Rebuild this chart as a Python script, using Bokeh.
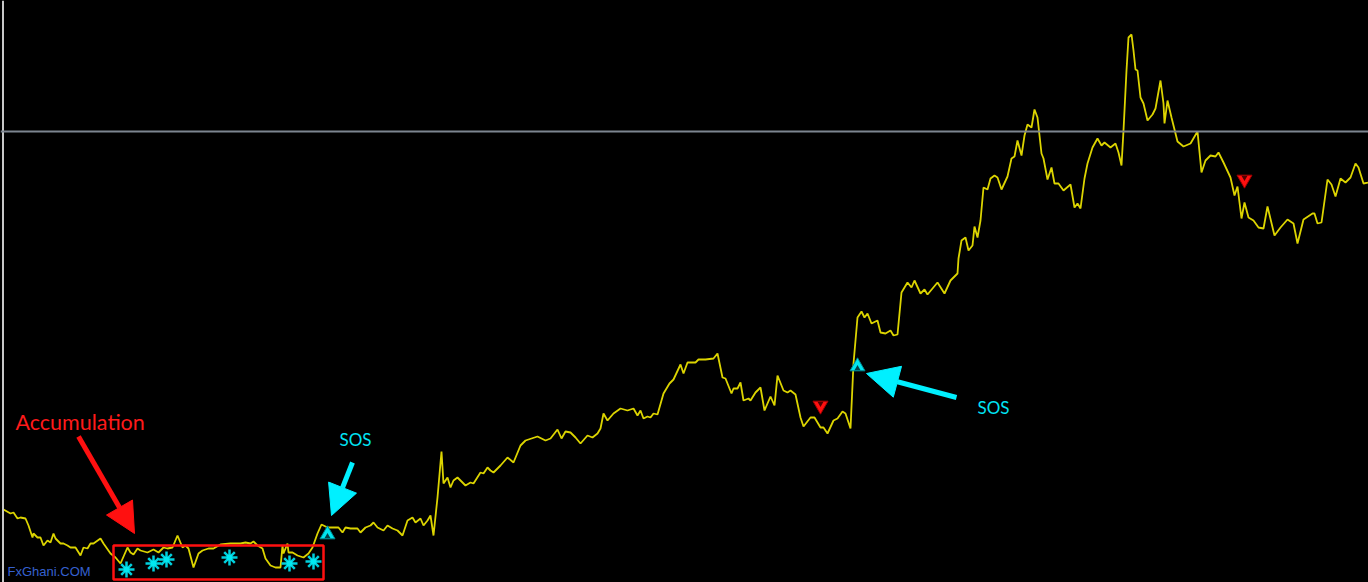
import numpy as np
from bokeh.plotting import figure
from bokeh.models import Range1d, Span, Label, Arrow, NormalHead, ColumnDataSource
from bokeh.embed import file_html
from bokeh.resources import INLINE

# ---- price series (time position, price level; price axis is inverted screen-like scale) ----
bar_time = [3, 10, 13, 17, 20, 25, 28, 32, 33, 37, 40, 43, 47, 50, 53, 55, 60, 63, 67, 70, 75, 80, 83, 87, 90, 93,
            100, 103, 110, 115, 120, 127, 130, 133, 137, 140, 147, 153, 158, 163, 167, 172, 177, 182, 185, 188, 193,
            198, 202, 208, 213,
            220, 230, 235, 240, 245, 250, 253, 257, 262, 265, 270, 275, 280, 282, 283, 287, 288, 292, 297, 303, 308,
            312, 317, 321, 327, 333, 338, 342, 345, 350, 357, 360, 365, 370, 373, 377, 383, 387, 392, 397, 402, 407,
            412, 415, 420, 423, 427, 430, 433,
            437, 441, 443, 447, 450, 453, 457, 465, 470, 473, 480, 483, 487, 490, 493, 500, 507, 513, 520, 525, 537,
            545, 550, 557, 561, 565, 570, 575, 580, 587, 592, 597, 600, 603, 607, 613, 620, 627, 630, 633, 637, 640,
            643, 647, 650, 653, 657, 663, 669, 673, 680, 683, 687, 695, 698, 705, 713, 717, 722, 725, 731, 733, 737,
            740, 743, 748, 750, 755, 760, 764, 770, 774, 777, 783, 787, 790, 795, 800, 803, 810, 814, 820, 823, 827,
            833, 837, 842, 845, 850, 853,
            855, 857, 861, 864, 867, 871, 877, 880, 885, 890, 893, 897, 901, 907, 911, 914, 920, 924, 927, 937, 944,
            950, 957, 958, 961, 965, 968, 972, 974, 977, 980, 983, 987, 990, 994, 997, 1001,
            1007, 1011, 1014, 1017, 1021, 1024, 1027, 1031, 1034, 1037, 1041, 1043, 1047, 1051, 1054, 1058, 1063,
            1070, 1074, 1077, 1080, 1084, 1087, 1092, 1097, 1101, 1104, 1110, 1115, 1118, 1121, 1123, 1126, 1128,
            1131, 1133, 1135, 1137, 1140, 1143, 1147, 1152, 1155, 1160, 1163, 1164, 1167, 1171, 1177, 1183, 1190, 1197,
            1201, 1205, 1210, 1215, 1218, 1223, 1230, 1234, 1237, 1241, 1244, 1248, 1253, 1258, 1263, 1267, 1274,
            1280, 1287, 1293, 1297, 1303, 1312, 1314, 1317, 1321, 1327, 1331, 1335, 1340, 1345, 1350, 1355, 1358,
            1363, 1368]
price = [509, 513, 512, 518, 517, 518, 525, 537, 533, 537, 537, 545, 540, 542, 533, 538, 543, 543, 545, 547, 547, 555,
         547, 548, 543, 543, 538, 543, 553, 557, 563, 547, 552, 554, 548, 550, 552, 549, 552, 547, 548, 547, 535, 547,
         545, 548, 567, 553, 550, 548, 548,
         544, 543, 543, 543, 542, 543, 541, 545, 548, 558, 565, 567, 567, 545, 553, 543, 552, 552, 555, 557, 553,
         547, 533, 524, 527, 527, 527, 532, 527, 528, 528, 532, 527, 525, 522, 527, 530, 525, 528, 530, 535, 520,
         517, 522, 518, 525, 520, 515, 535,
         497, 451, 483, 477, 487, 480, 477, 485, 482, 483, 472, 473, 467, 470, 472, 465, 457, 462, 445, 440, 436,
         440, 438, 429, 438, 431, 432, 437, 443, 435, 437, 433, 428, 413, 420, 413, 408, 410, 409, 408, 415, 410,
         418, 416, 417, 413, 414, 393, 383, 379, 364, 373, 362, 362, 359, 359, 358, 353, 377, 378, 393, 388, 388,
         382, 400, 398, 400, 392, 387, 410, 396, 405, 375, 390, 392, 390, 394, 417, 426, 417, 417, 427, 427, 433,
         420, 418, 411, 413, 428, 363,
         340, 317, 311, 317, 313, 323, 320, 332, 333, 330, 335, 334, 292, 282, 287, 280, 293, 289, 294, 282, 293,
         280, 273, 258, 240, 237, 250, 245, 226, 237, 220, 187, 189, 178, 175, 177, 189,
         176, 158, 156, 140, 155, 135, 124, 127, 109, 117, 153, 158, 179, 167, 183, 183, 190,
         184, 207, 203, 208, 178, 163, 147, 138, 145, 142, 147, 143, 152, 165, 130, 70, 37,
         34, 50, 69, 70, 97, 103, 120, 114, 108, 80, 103, 123, 100, 117, 141, 146, 143, 131,
         172, 160, 155, 156, 152, 162, 177, 195, 186, 218, 202, 217, 220, 227, 228, 206, 235,
         227, 219, 223, 243, 219, 213, 213, 223, 222, 179, 184, 196, 178, 182, 177, 163, 167,
         183, 182]

# accumulation stars
star_time = [126, 153, 166, 229, 289, 313]
star_price = [569, 563, 559, 557, 563, 561]

# buy / sell signal arrows
buy_time = [327, 857]
buy_price = [534, 366]
sell_time = [820, 1244]
sell_price = [405, 179]

# horizontal level
level_price = 131

# accumulation box
box_left, box_right, box_top, box_bottom = 113, 323, 545, 579

W, H = 1368, 582
p = figure(width=W, height=H, output_backend="svg", toolbar_location=None,
           x_range=Range1d(0, W), y_range=Range1d(H, 0),
           x_axis_type=None, y_axis_type=None, min_border=0,
           background_fill_color="#000000", border_fill_color="#000000",
           outline_line_color=None)
p.grid.visible = False

# left border & horizontal level
p.add_layout(Span(location=2.5, dimension="height", line_color="#c8c8c8", line_width=2))
p.add_layout(Span(location=level_price, dimension="width", line_color="#7d8590", line_width=2))

src = ColumnDataSource(dict(t=bar_time, v=price))
p.line("t", "v", source=src, line_color="#dcd400", line_width=1.8)

# accumulation box
p.quad(left=[box_left], right=[box_right], top=[box_top], bottom=[box_bottom],
       fill_color=None, line_color="#ff1010", line_width=2.5)

# stars
p.scatter(star_time, star_price, marker="cross", size=16, line_color="#00cfdc", line_width=2.5)
p.scatter(star_time, star_price, marker="x", size=15, line_color="#00cfdc", line_width=2.5)
p.scatter(star_time, star_price, marker="circle", size=6, fill_color="#00e8f0", line_color=None)

# signal arrows
p.scatter(buy_time, buy_price, marker="triangle", size=15, fill_color="#00e5f0",
          line_color="#008890", line_width=1)
p.scatter(buy_time, [b + 2 for b in buy_price], marker="triangle", size=6, fill_color="#004048", line_color=None)
p.scatter(sell_time, sell_price, marker="inverted_triangle", size=15, fill_color="#ff1010",
          line_color="#a00000", line_width=1)
p.scatter(sell_time, [s - 2 for s in sell_price], marker="inverted_triangle", size=6, fill_color="#500000",
          line_color=None)

# annotation arrows
ann_red = dict(x_start=78, y_start=436, x_end=134, y_end=533)
ann_cyan1 = dict(x_start=352, y_start=462, x_end=331, y_end=515)
ann_cyan2 = dict(x_start=956, y_start=397, x_end=866, y_end=373)

p.add_layout(Arrow(end=NormalHead(size=30, fill_color="#ff1010", line_color="#ff1010"),
                   line_color="#ff1010", line_width=5, **ann_red))
p.add_layout(Arrow(end=NormalHead(size=30, fill_color="#00f0ff", line_color="#00f0ff"),
                   line_color="#00f0ff", line_width=5, **ann_cyan1))
p.add_layout(Arrow(end=NormalHead(size=32, fill_color="#00f0ff", line_color="#00f0ff"),
                   line_color="#00f0ff", line_width=5, **ann_cyan2))

# texts
p.add_layout(Label(x=15, y=421, text="Accumulation", text_color="#ff1a1a", text_font="Lato",
                   text_font_size="21.5px", text_baseline="middle", text_align="left"))
p.add_layout(Label(x=355, y=439, text="SOS", text_color="#00e5f5", text_font="Lato",
                   text_font_size="17px", text_baseline="middle", text_align="center"))
p.add_layout(Label(x=993, y=407, text="SOS", text_color="#00e5f5", text_font="Lato",
                   text_font_size="17px", text_baseline="middle", text_align="center"))
p.add_layout(Label(x=7, y=571, text="FxGhani.COM", text_color="#3560d0", text_font="Liberation Sans",
                   text_font_size="13px", text_baseline="middle", text_align="left"))

html = file_html(p, INLINE)
style = "<style>html,body{margin:0;padding:0;background:#000;overflow:hidden}</style>"
html = html.replace("</head>", style + "</head>", 1)
open("out.html", "w").write(html)
